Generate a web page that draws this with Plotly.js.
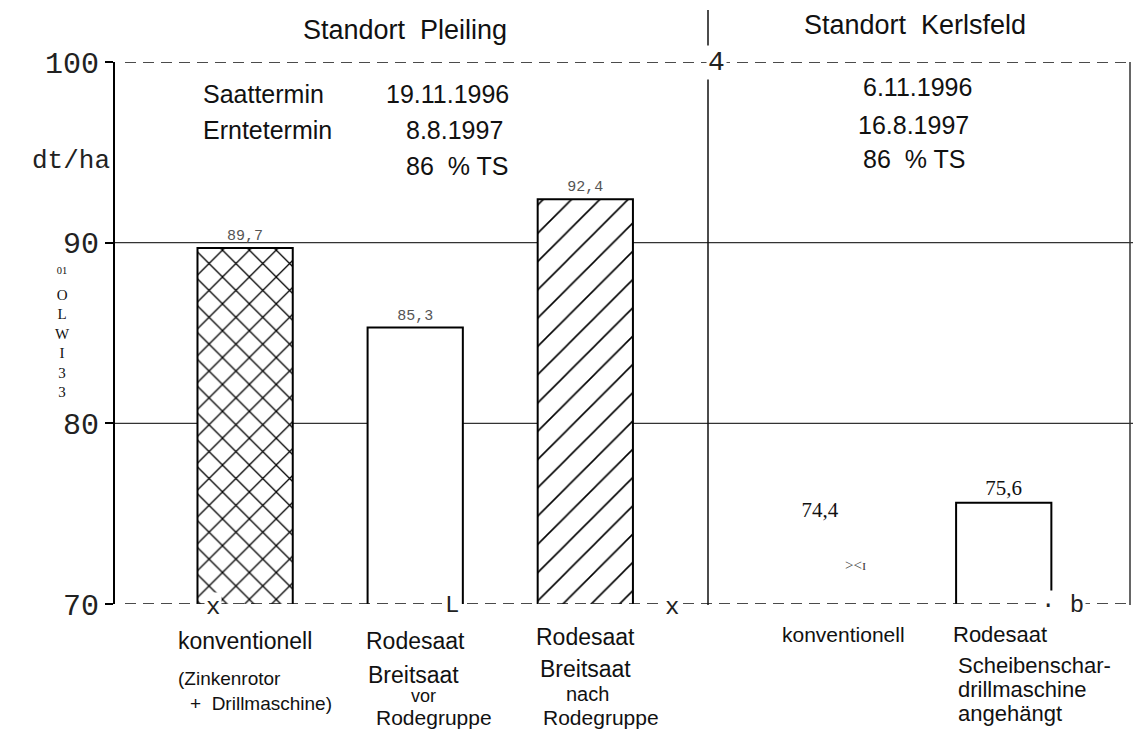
<!DOCTYPE html>
<html><head><meta charset="utf-8">
<script src="https://cdn.plot.ly/plotly-3.0.1.min.js"></script>
<style>html,body{margin:0;padding:0;background:#fff}#chart{width:1136px;height:729px}</style>
</head><body><div id="chart"></div>
<script>
// ---- data ----
const categories = ['konventionell (Pleiling)', 'Rodesaat Breitsaat vor Rodegruppe', 'Rodesaat Breitsaat nach Rodegruppe', 'konventionell (Kerlsfeld)', 'Rodesaat Scheibenschardrillmaschine angehängt'];
const yields = [89.7, 85.3, 92.4, 74.4, 75.6];
const yTicks = [70, 80, 90, 100];
const yTickLabels = ['70', '80', '90', '100'];
const valueLabels = yields.map(v => v.toFixed(1).replace('.', ','));
const hatch = ['x', '', '/', '', ''];

// ---- layout helpers (pixel -> paper) ----
const L = 115, R = 1133, T = 62, B = 604;
const px = x => (x - L) / (R - L);
const py = y => (B - y) / (B - T);
const barX = [1, 2, 3, 4.38, 5.46];

const sans = 'Liberation Sans, Arial, sans-serif';
const mono = 'Liberation Mono, Courier New, monospace';
const serif = 'Liberation Serif, Times New Roman, serif';

function ann(text, x, y, size, opts = {}) {
  return Object.assign({
    text: text, xref: 'paper', yref: 'paper', x: px(x), y: py(y),
    xanchor: 'center', yanchor: 'middle', showarrow: false,
    font: { family: sans, size: size, color: '#111' }
  }, opts);
}

const labelFont = {
  family: [mono, mono, mono, serif, serif],
  size: [15, 15, 15, 21, 21],
  color: ['#555', '#555', '#555', '#111', '#111']
};

const trace = {
  type: 'bar',
  x: barX,
  y: yields,
  width: 0.56,
  customdata: categories,
  hovertemplate: '%{customdata}: %{y}<extra></extra>',
  text: valueLabels,
  textposition: 'outside',
  cliponaxis: false,
  textfont: labelFont,
  outsidetextfont: labelFont,
  marker: {
    color: '#ffffff',
    line: { color: ['#000', '#000', '#000', 'rgba(0,0,0,0)', '#000'], width: 2 },
    pattern: {
      shape: hatch,
      fgcolor: '#000000',
      bgcolor: '#ffffff',
      size: [19, 8, 20, 8, 8],
      solidity: [0.13, 0.1, 0.08, 0.1, 0.1]
    }
  }
};

const shapes = [];
yTicks.forEach(v => {
  const dashed = (v === 70 || v === 100);
  shapes.push({
    type: 'line', xref: 'paper', yref: 'y', x0: dashed ? px(125) : 0, x1: 1, y0: v, y1: v,
    layer: dashed ? 'above' : 'below',
    line: { color: dashed ? '#111' : '#333', width: dashed ? 1.6 : 1.2, dash: dashed ? '11px,7px' : 'solid' }
  });
});
// separator between sites
shapes.push({ type: 'line', xref: 'paper', yref: 'paper', x0: px(708), x1: px(708), y0: py(605), y1: py(10), line: { color: '#111', width: 1.5 } });
// right border
shapes.push({ type: 'line', xref: 'paper', yref: 'paper', x0: px(1130), x1: px(1130), y0: py(605), y1: py(62), line: { color: '#333', width: 1.5 } });

const annotations = [
  ann('Standort  Pleiling', 405, 30, 27),
  ann('Standort  Kerlsfeld', 915, 25, 27),
  ann('Saattermin', 201, 94, 25, { xanchor: 'left' }),
  ann('19.11.1996', 384, 94, 25, { xanchor: 'left' }),
  ann('Erntetermin', 201, 130, 25, { xanchor: 'left' }),
  ann('8.8.1997', 404, 130, 25, { xanchor: 'left' }),
  ann('86  % TS', 404, 166, 25, { xanchor: 'left' }),
  ann('6.11.1996', 917, 87, 25),
  ann('16.8.1997', 913, 125, 25),
  ann('86  % TS', 914, 159, 25),
  ann('dt/ha', 71, 161, 26, { font: { family: mono, size: 26, color: '#222' } }),
  ann('<sup>01</sup><br>O<br>L<br>W<br>I<br>3<br>3', 62, 332, 15, { font: { family: serif, size: 15, color: '#111' } }),
  ann('4', 716, 62, 28, { font: { family: mono, size: 28, color: '#222' }, bgcolor: '#fff' }),
  ann('x', 213, 607, 24, { font: { family: mono, size: 24, color: '#222' }, bgcolor: '#fff' }),
  ann('L', 452, 605, 24, { font: { family: mono, size: 24, color: '#222' }, bgcolor: '#fff' }),
  ann('x', 672, 607, 24, { font: { family: mono, size: 24, color: '#222' }, bgcolor: '#fff' }),
  ann('· b', 1062, 605, 24, { font: { family: mono, size: 24, color: '#222' }, bgcolor: '#fff' }),
  ann('&gt;&lt;ɪ', 855, 565, 15, { font: { family: serif, size: 15, color: '#444' } }),
  // category labels
  ann('konventionell', 245, 641, 23),
  ann('(Zinkenrotor', 176, 678, 19, { xanchor: 'left' }),
  ann('+  Drillmaschine)', 188, 703, 19, { xanchor: 'left' }),
  ann('Rodesaat', 415, 641, 23),
  ann('Breitsaat', 413, 675, 23),
  ann('vor', 423, 696, 18),
  ann('Rodegruppe', 434, 717, 21),
  ann('Rodesaat', 585, 637, 23),
  ann('Breitsaat', 585, 669, 23),
  ann('nach', 587, 694, 20),
  ann('Rodegruppe', 601, 717, 21),
  ann('konventionell', 843, 634, 21),
  ann('Rodesaat', 1000, 634, 22),
  ann('Scheibenschar-', 956, 665, 22, { xanchor: 'left' }),
  ann('drillmaschine', 956, 689, 22, { xanchor: 'left' }),
  ann('angehängt', 956, 713, 22, { xanchor: 'left' })
];

const layout = {
  width: 1136, height: 729,
  margin: { l: L, r: 1136 - R, t: T, b: 729 - B, pad: 0 },
  paper_bgcolor: '#fff', plot_bgcolor: 'rgba(0,0,0,0)',
  showlegend: false,
  xaxis: { range: [0.235, 6.22], showticklabels: false, showgrid: false, zeroline: false, showline: false, ticks: '', fixedrange: true },
  yaxis: {
    range: [70, 100], tickvals: yTicks, ticktext: yTickLabels,
    showgrid: false, zeroline: false, showline: true, linecolor: '#000', linewidth: 2,
    ticks: 'outside', ticklen: 8, tickwidth: 1.5, tickcolor: '#000',
    tickfont: { family: mono, size: 30, color: '#222' }
  },
  shapes: shapes,
  annotations: annotations
};

Plotly.newPlot('chart', [trace], layout, { displayModeBar: false });
</script>
</body></html>
